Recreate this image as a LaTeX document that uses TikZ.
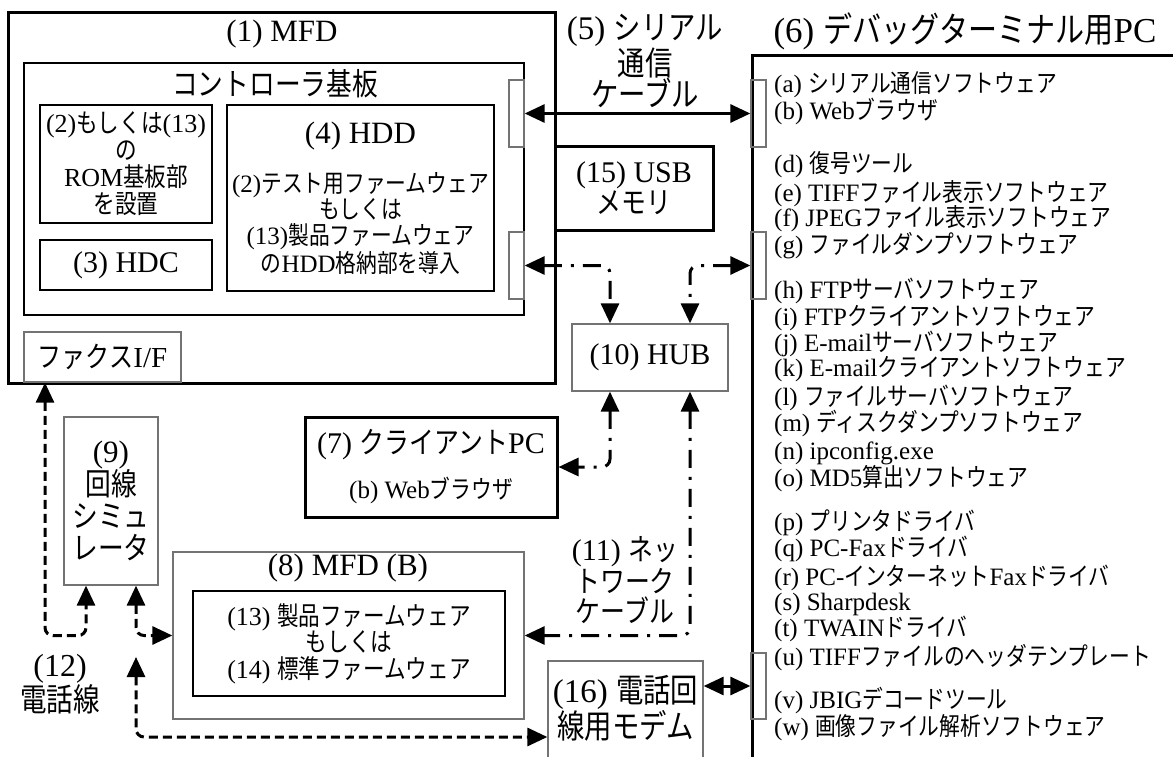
\documentclass[tikz,border=0pt]{standalone}
\usepackage{fontspec}
\setmainfont{Liberation Serif}
\newfontfamily\jafont[FakeStretch=0.83]{Noto Sans CJK JP}
\newcommand{\ja}[1]{{\jafont #1}}
\usetikzlibrary{arrows.meta,positioning}

\begin{document}
\begin{tikzpicture}[
    x=1pt, y=-1pt,
    thickbox/.style={rectangle, draw, line width=3pt, inner sep=0pt, align=center},
    plainbox/.style={rectangle, draw, line width=1.8pt, inner sep=0pt, align=center},
    thinbox/.style={rectangle, draw, line width=1.2pt, inner sep=0pt, align=center},
    graybox/.style={rectangle, draw=black!55, line width=1.3pt, inner sep=0pt, align=center},
    port/.style={graybox, minimum width=15pt, minimum height=67pt},
    bigtext/.style={font=\fontsize{31}{31}\selectfont, align=center},
    listtext/.style={anchor=base west, inner sep=0pt, font=\fontsize{25}{26}\selectfont},
    arrow/.style={{Triangle[length=20pt,width=18pt]}-{Triangle[length=20pt,width=18pt]}, line width=3pt},
    netline/.style={arrow, rounded corners=8pt, dash pattern=on 18pt off 9pt on 3pt off 9pt},
    telline/.style={arrow, rounded corners=8pt, dash pattern=on 9pt off 5pt},
]
    \useasboundingbox (0,0) rectangle (1173,757);
    \clip (0,0) rectangle (1173,757);

    % MFD
    \node[thickbox, minimum width=547pt, minimum height=370pt] (mfd) at (281.5,198) {};
    \node[bigtext] (mfdtitle) at (282,34) {(1) MFD};
    \node[plainbox, minimum width=500pt, minimum height=252pt] (board) at (274,189) {};
    \node[bigtext] (boardtitle) at (275,84) {\ja{コントローラ基板}};
    \node[plainbox, minimum width=172pt, minimum height=118pt, font=\fontsize{26}{27}\selectfont] (rom) at (126,164)
        {(2)\ja{もしくは}(13)\\\ja{の}\\ROM\ja{基板部}\\\ja{を設置}};
    \node[thinbox, minimum width=172pt, minimum height=50pt, font=\fontsize{30}{30}\selectfont] (hdc) at (126,265) {(3) HDC};
    \node[plainbox, minimum width=267pt, minimum height=186pt, font=\fontsize{25}{26}\selectfont] (hdd) at (360.5,198)
        {{\fontsize{31}{31}\selectfont (4) HDD}\\[22pt](2)\ja{テスト用ファームウェア}\\\ja{もしくは}\\(13)\ja{製品ファームウェア}\\\ja{の}HDD\ja{格納部を導入}};
    \node[port] (mconn1) at (516.5,113.5) {};
    \node[port] (mconn2) at (516.5,265.5) {};
    \node[graybox, minimum width=157pt, minimum height=50pt, font=\fontsize{29}{29}\selectfont] (fax) at (102.5,357) {\ja{ファクス}I/F};

    % Debug terminal PC
    \node[thickbox, minimum width=600pt, minimum height=900pt, anchor=north west] (pc) at (751,54) {};
    \node[font=\fontsize{35}{35}\selectfont] (pctitle) at (965,31) {(6) \ja{デバッグターミナル用}PC};
    \node[port] (pconn1) at (758.5,113.5) {};
    \node[port] (pconn2) at (758.5,265.5) {};
    \node[port, minimum height=66pt] (pconn3) at (758.5,686) {};

    % Software list
    \node[listtext] (swa) at (774,93) {(a) \ja{シリアル通信ソフトウェア}};
    \node[listtext] (swb) at (774,120) {(b) Web\ja{ブラウザ}};
    \node[listtext] (swd) at (774,173) {(d) \ja{復号ツール}};
    \node[listtext] (swe) at (774,201) {(e) TIFF\ja{ファイル表示ソフトウェア}};
    \node[listtext] (swf) at (774,226) {(f) JPEG\ja{ファイル表示ソフトウェア}};
    \node[listtext] (swg) at (774,253) {(g) \ja{ファイルダンプソフトウェア}};
    \node[listtext] (swh) at (774,298) {(h) FTP\ja{サーバソフトウェア}};
    \node[listtext] (swi) at (774,325) {(i) FTP\ja{クライアントソフトウェア}};
    \node[listtext] (swj) at (774,351) {(j) E-mail\ja{サーバソフトウェア}};
    \node[listtext] (swk) at (774,376) {(k) E-mail\ja{クライアントソフトウェア}};
    \node[listtext] (swl) at (774,405) {(l) \ja{ファイルサーバソフトウェア}};
    \node[listtext] (swm) at (774,431) {(m) \ja{ディスクダンプソフトウェア}};
    \node[listtext] (swn) at (774,459) {(n) ipconfig.exe};
    \node[listtext] (swo) at (774,486) {(o) MD5\ja{算出ソフトウェア}};
    \node[listtext] (swp) at (774,530) {(p) \ja{プリンタドライバ}};
    \node[listtext] (swq) at (774,556) {(q) PC-Fax\ja{ドライバ}};
    \node[listtext] (swr) at (774,585) {(r) PC-\ja{インターネット}Fax\ja{ドライバ}};
    \node[listtext] (sws) at (774,610) {(s) Sharpdesk};
    \node[listtext] (swt) at (774,636) {(t) TWAIN\ja{ドライバ}};
    \node[listtext] (swu) at (774,665) {(u) TIFF\ja{ファイルのヘッダテンプレート}};
    \node[listtext] (swv) at (774,708) {(v) JBIG\ja{デコードツール}};
    \node[listtext] (sww) at (774,735) {(w) \ja{画像ファイル解析ソフトウェア}};

    % Middle column
    \node[font=\fontsize{33}{31.5}\selectfont, align=center] (seriallabel) at (645,61) {(5) \ja{シリアル}\\\ja{通信}\\\ja{ケーブル}};
    \node[thickbox, minimum width=158pt, minimum height=83pt, font=\fontsize{30}{31}\selectfont] (usb) at (634,188.5) {(15) USB\\\ja{メモリ}};
    \node[graybox, minimum width=156pt, minimum height=67pt, font=\fontsize{30}{30}\selectfont] (hub) at (650,357.5) {(10) HUB};
    \node[font=\fontsize{30}{30}\selectfont, align=center] (netlabel) at (625,580) {(11) \ja{ネッ}\\\ja{トワーク}\\\ja{ケーブル}};
    \node[graybox, minimum width=155pt, minimum height=152pt] (modem) at (625.5,737) {};
    \node[font=\fontsize{33}{33}\selectfont, align=center] (modemtext) at (625.5,708.5) {(16) \ja{電話回}\\\ja{線用モデム}};

    % Lower left
    \node[thickbox, minimum width=252pt, minimum height=100pt, font=\fontsize{30}{30}\selectfont] (client) at (431,467)
        {(7) \ja{クライアント}PC\\[15pt]{\fontsize{25}{25}\selectfont (b) Web\ja{ブラウザ}}};
    \node[graybox, minimum width=94pt, minimum height=168pt, font=\fontsize{31}{32}\selectfont] (sim) at (111,501)
        {(9)\\\ja{回線}\\\ja{シミュ}\\\ja{レータ}};
    \node[graybox, minimum width=351pt, minimum height=167pt] (mfdb) at (348.5,635.5) {};
    \node[bigtext] (mfdbtitle) at (348,568) {(8) MFD (B)};
    \node[plainbox, minimum width=312pt, minimum height=105pt, font=\fontsize{26}{26.5}\selectfont] (fw) at (349,643.5)
        {(13) \ja{製品ファームウェア}\\\ja{もしくは}\\(14) \ja{標準ファームウェア}};
    \node[font=\fontsize{32}{32}\selectfont, align=center] (tellabel) at (60,684) {(12)\\\ja{電話線}};
    \coordinate (telend) at (136,657);

    % Serial cable
    \draw[arrow] (mconn1.east) -- (pconn1.west);

    % Network cable
    \draw[netline] (mconn2.east) -| ([xshift=-40pt]hub.north);
    \draw[netline] (pconn2.west) -| ([xshift=40pt]hub.north);
    \draw[netline] ([xshift=-40pt]hub.south) |- (client.east);
    \draw[netline] ([xshift=40pt]hub.south) |- (mfdb.east);

    % Telephone line
    \draw[telline] ([xshift=-57.5pt]fax.south) |- ([xshift=-25pt,yshift=-50pt]sim.south) -- ([xshift=-25pt]sim.south);
    \draw[telline] ([xshift=25pt]sim.south) |- (mfdb.west);
    \draw[telline] (telend) |- (modem.west);
    \draw[arrow] (modem.east |- pconn3.west) -- (pconn3.west);
\end{tikzpicture}
\end{document}
